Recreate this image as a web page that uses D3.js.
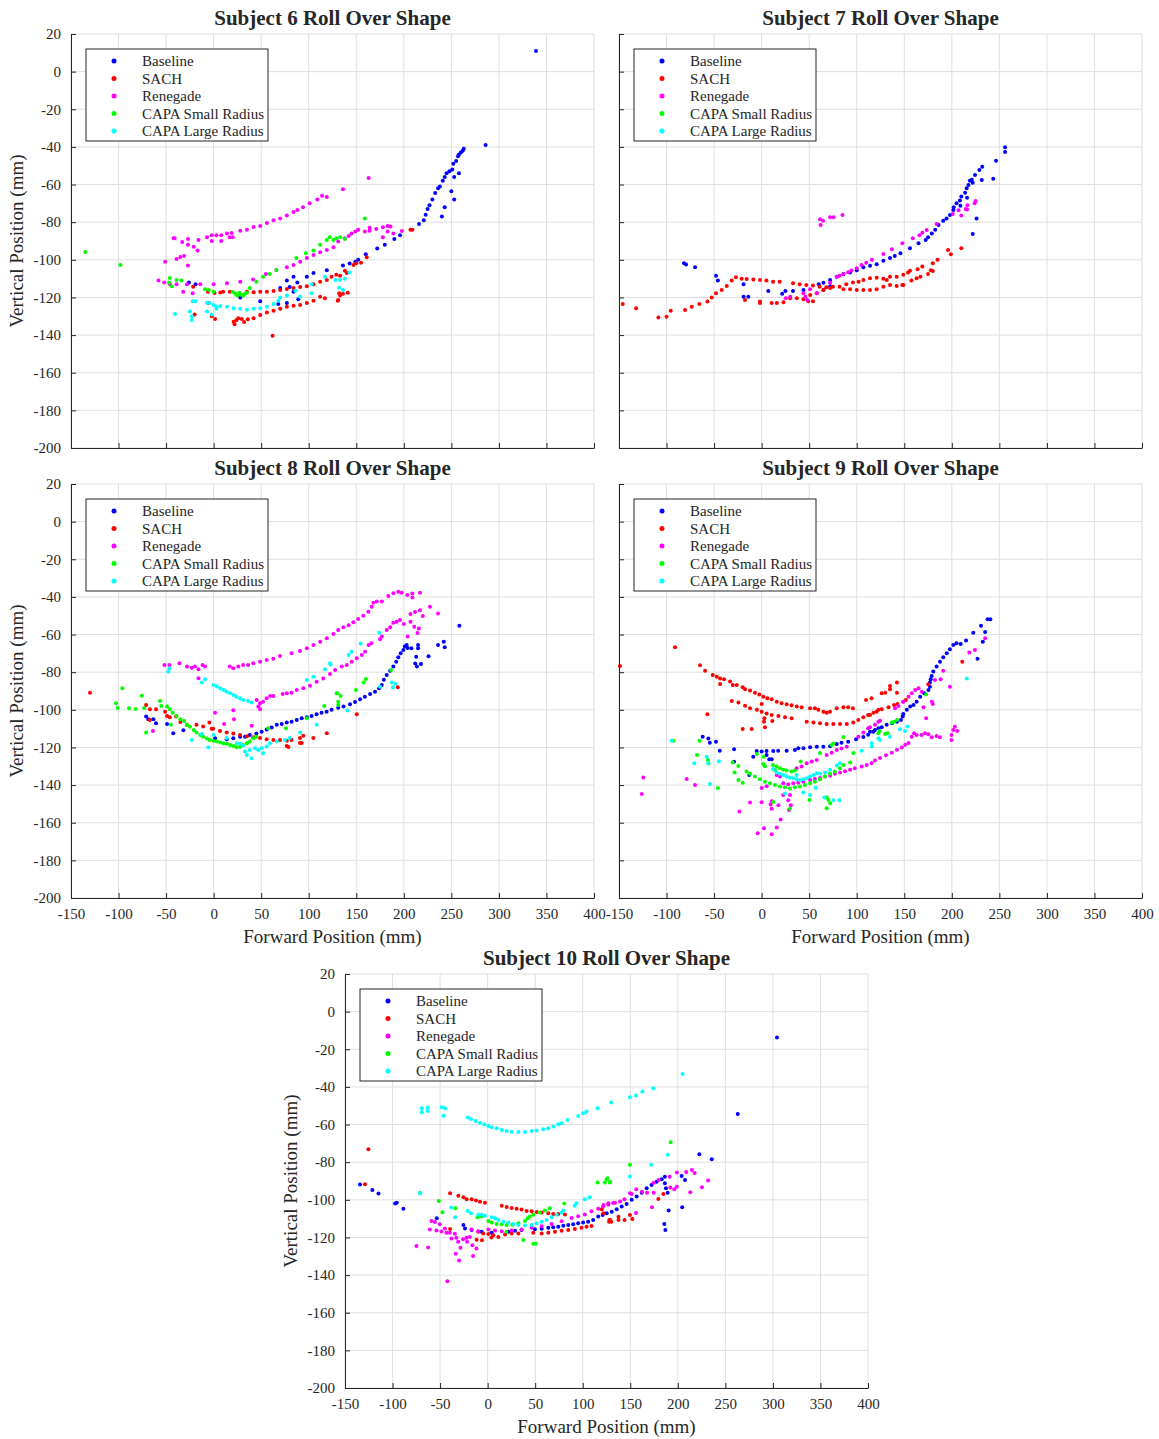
<!DOCTYPE html>
<html>
<head>
<meta charset="utf-8">
<script src="https://cdn.jsdelivr.net/npm/d3@7"></script>
<style>
  body { margin: 0; background: #fff; }
  svg { display: block; }
  text { font-family: "Liberation Serif", "Times New Roman", serif; fill: #262626; }
</style>
</head>
<body>
<svg id="fig" width="1159" height="1439"></svg>
<script>
const seriesNames  = ["Baseline", "SACH", "Renegade", "CAPA Small Radius", "CAPA Large Radius"];
const seriesColors = ["#0000ff", "#ff0000", "#ff00ff", "#00ff00", "#00ffff"];
const xTicks = [-150, -100, -50, 0, 50, 100, 150, 200, 250, 300, 350, 400];
const yTicks = [-200, -180, -160, -140, -120, -100, -80, -60, -40, -20, 0, 20];

// ---- Subject 6 ----
const s6Baseline = [[-26,-112],[-19,-113],[28,-120],[49,-122],[68,-123.5],[77,-123],[70,-115],[77,-111],[80,-114.5],
  [84,-109],[84,-117],[88,-112],[89,-121],[98,-109],[105,-107],[119,-105.5],[136,-103],[143,-102],[149,-101],[152,-100],
  [160,-97],[172,-94],[180,-92],[190,-89],[196,-87],[216,-81],[221,-79],[223,-76],[225,-73],[227,-71],[230,-68],
  [233,-64.5],[236,-62],[238,-61],[241,-58],[243,-56],[245,-54],[248,-53],[251,-52],[252,-49],[255,-47.5],[257,-45],
  [258,-44],[260,-43],[262,-42],[263,-41],[286,-39],[240,-77],[243,-72],[250,-63.5],[253,-68],[253,-56],[258,-54],[339,11]];
const s6Sach = [[-21.5,-114.3],[-6,-117],[1,-117.6],[7,-117.4],[10,-117],[17,-117],[35,-117],[42,-117.2],[49,-117],
  [56,-117],[63,-116.6],[70,-116],[77,-115.5],[84,-115],[91,-114.4],[98,-114],[105,-113],[112,-111.6],[119,-110.7],
  [124,-109],[129,-108],[133,-108.5],[138,-105.8],[140,-107],[147,-102.7],[150,-101.8],[155,-101.5],[161,-98.6],[207,-84],[209,-84],
  [21,-132.9],[22,-134.3],[29.5,-131.5],[32,-133],[36,-131.6],[42,-131],[49,-129.3],[56,-128],[63,-127],[70,-126],
  [77,-125],[84,-124.4],[91,-124],[98,-123],[105,-121.7],[112,-119.6],[117,-120.4],[131,-121.3],[130.5,-121.7],[132,-117.8],
  [133,-119],[136,-118],[141,-117.5],[62,-140.3],[-5.6,-123],[-2,-130],[1.5,-131.5],[-20,-129],[26,-131],[24,-132]];
const s6Renegade = [[-42,-88.5],[-41,-88.5],[-33,-90.5],[-27,-89],[-27,-92],[-21,-93],[-16,-89.5],[-17,-95],[-7,-88],
  [-2,-87],[-2,-90],[3,-87],[8,-87],[8,-90],[14,-86],[17,-88],[20,-88],[19,-85.7],[28,-84.6],[35,-84],[42,-82.6],
  [49,-82],[56,-80.5],[63,-79],[70,-78],[77,-76.5],[84,-74.6],[88,-73.5],[94,-72],[101,-70],[109,-68],[114,-66],
  [119,-66.6],[136,-62.5],[163,-56.5],
  [-58,-111],[-51,-101],[-52,-112],[-46,-113],[-39,-99.5],[-35,-98.5],[-31,-98],[-27,-103],[-32,-117],[-22,-117.8],
  [-39,-113],[-28,-113],[-14,-113],[0,-113],[14,-112.5],[28,-111.6],[41.5,-110.4],[55,-107.5],[66,-105.4],[77,-104],
  [84,-102.7],[91,-101],[98,-99],[105,-97.5],[112,-96],[119,-94.8],[126,-93.3],[131,-90.3],[138,-88.5],[142,-87.4],
  [145,-86],[149,-85],[152,-84],[159,-85],[164,-83],[164,-84.6],[171,-83.6],[178,-82.7],[183,-82],[186,-82.3],
  [178,-88],[183,-85],[189,-86],[198,-84.7]];
const s6Small = [[-135,-95.8],[-98,-102.7],[-47,-112],[-46,-109.7],[-44,-114],[-39,-110.7],[-34,-111],[-9,-115.6],
  [-5,-116],[0,-117],[20,-117],[23,-118],[25,-119],[27,-117.5],[29,-118.5],[31,-119],[33,-118],[35,-117.5],[38,-115],
  [45,-111.6],[52,-109],[59,-107.5],[66,-105.4],[87,-99],[97,-96.5],[105,-95],[112,-92],[119,-89.5],[122,-88],
  [126,-89.5],[129,-88.5],[133,-88],[138,-89],[159,-78]];
const s6Large = [[-40.6,-128.8],[-25,-127.5],[-23,-130],[-23,-132],[-22,-122],[-19,-122],[-7,-122.8],[-4,-123],[0,-124],
  [7,-124.5],[14,-125],[21,-125.7],[28,-126],[35,-126.5],[42,-126],[49,-125.7],[56,-125],[63,-123.5],[68,-121.7],
  [70,-120],[77,-119],[86,-116.5],[91,-119.6],[103,-117.8],[103,-113],[117,-109],[133,-110.7],[138,-110],[143,-106.8],
  [136,-116],[-7,-127.5],[-2,-129],[3,-126],[3,-124.8],[132,-114.8],[128,-110.7]];

// ---- Subject 7 ----
const s7Baseline = [[-81.6,-101.8],[-79.5,-102.5],[-70,-104],[-48,-108.4],[-46,-111],[-19,-113],[-19,-119.6],[-14,-119.6],
  [7,-116.6],[21.6,-118],[25,-116.6],[33,-116.6],[44,-116],[60,-113],[65,-112.2],[65,-116],[72,-110.7],[72,-114],
  [79,-109],[86,-107.5],[93,-106.8],[100,-105.5],[107,-104],[114,-103.2],[121,-102.4],[128,-100.5],[135,-99],[140,-98],
  [146,-96.5],[156,-93.9],[165,-91.2],[172.5,-89.5],[175,-88],[179,-86],[182.5,-84],[186,-81.5],[191,-79.2],[194.5,-78],
  [198,-76.2],[201.6,-73.5],[202,-72],[205,-70],[208.5,-68.5],[210,-66.4],[214,-64.3],[215.6,-62],[217.5,-60.2],[219,-58],
  [221,-57.5],[224.4,-54.9],[229,-52.3],[232,-50.5],[222,-59],[231.5,-57.6],[243.6,-56.9],[246.5,-47.3],[256,-40.2],
  [256,-42.7],[209,-71.3],[216,-67],[226,-78],[222,-86.3]];
const s7Sach = [[-146,-123.5],[-132,-125.8],[-108.6,-130.7],[-100,-130.2],[-95.6,-127],[-80.5,-126.7],[-73.5,-125],
  [-65.5,-123.5],[-57,-122.2],[-52.5,-120],[-48,-117.8],[-42,-116],[-36.7,-113.9],[-31.5,-111],[-27,-109.3],[-21,-110],
  [-15.7,-110.2],[-8.7,-110.4],[-1.7,-110.7],[5,-111],[12,-111.6],[19,-111.6],[33,-112.5],[40,-113],[47,-113.4],
  [54,-113.6],[61,-114.3],[68,-114.6],[75,-114.3],[82,-114.3],[89,-113],[96,-112],[102,-111.6],[107,-110.7],[114,-109.8],
  [121,-109.5],[128,-110],[135,-109],[142,-109],[149,-108],[154,-106.8],[156,-105.8],[164,-105],[169,-103.6],[178,-105.6],
  [180,-101.8],[185,-100],[196,-94.8],[199,-97],[210,-93.9],
  [-17.5,-121.3],[-1.7,-122.2],[-1.7,-123],[10.6,-123],[16,-123],[23,-122.5],[30,-120.4],[37,-120.4],[44,-121],[49,-122],
  [54,-122],[51,-118.7],[58,-117.8],[65,-116],[72,-115],[86,-115.6],[93,-115.6],[100,-116],[107,-116],[114,-116],
  [121,-115.6],[128,-114.3],[131.5,-110.7],[135,-113.4],[142,-113.9],[148,-113.4],[149,-113.4],[157.5,-111],[163,-109.8],
  [167,-109],[175,-107.6],[180,-106]];
const s7Renegade = [[61.4,-78.5],[62,-81.5],[64.6,-79.2],[72,-77.4],[75.7,-77.4],[85,-76.2],
  [25.4,-120.4],[30,-119.6],[44,-117.8],[46,-119.6],[48,-121.3],[51,-115.6],[58,-117.8],[72,-112.2],[79,-109],[82,-108.5],
  [86,-107.5],[91,-106.6],[94.5,-105.7],[100,-104.5],[105,-102.7],[110,-101.5],[116,-100],[128,-96.9],[137,-94.4],
  [148,-91.2],[159,-88.6],[166,-86.9],[169,-85.6],[173.6,-84.1],[184,-81],[201,-75.6],[207,-73.6],[210,-76.4],
  [214.6,-73],[216,-73.3],[216.5,-71],[224,-70],[225,-68.8]];
const s7Small = [];
const s7Large = [];

// ---- Subject 8 ----
const s8Baseline = [[-71,-103.6],[-68.6,-105],[-63.4,-105],[-60.6,-107.2],[-49,-107.6],[-42.4,-112.5],[-31.8,-110.8],
  [1.5,-115.1],[13.7,-115.7],[20.7,-115.1],[27.8,-114.3],[33,-114.3],[38,-113.4],[45,-112.6],[50.5,-111.7],[55.8,-110.4],
  [61,-109.4],[66.4,-108],[71.6,-107.6],[76.9,-106.8],[82,-106.3],[87.4,-105.4],[92.6,-104.5],[98,-104],[103,-103.3],
  [108.3,-102.4],[113.5,-101.5],[118.8,-101],[124,-100],[131,-98.9],[136.6,-98.3],[143.4,-97],[148.7,-95.8],[154,-94.4],
  [159,-93],[164.5,-91.6],[169.7,-90.4],[174,-88.6],[176.8,-86.8],[179,-84],[182,-81.5],[185.6,-79.2],[189,-77],
  [192,-74.4],[194.2,-72],[196.7,-69.9],[199.5,-68.2],[201,-66.4],[203,-65.5],[204,-67.2],[208,-67.3],[215,-65.5],
  [215,-67.3],[213,-71.8],[212,-75.4],[213.8,-77],[218,-75.6],[226,-71.6],[236,-65.5],[242,-63.8],[243,-66.8],[258.4,-55.3]];
const s8Sach = [[-130,-90.9],[-71,-97.4],[-67,-99.7],[-60.6,-99.7],[-67,-105.4],[-51,-101],[-49,-103.3],[-46,-104],
  [-39.5,-103.6],[-35,-106.5],[-28,-108],[-18,-108],[-11,-108.9],[-4.5,-106.8],[-2,-110],[-0.5,-110],[6.7,-111.2],
  [13.7,-112],[20.7,-112.6],[27.8,-113.4],[35,-114],[41.7,-114.6],[48.8,-115],[55.8,-115.7],[62.8,-116],[69.8,-116],
  [77,-116.5],[82,-116],[76.9,-119.2],[78.6,-119.8],[90.8,-115],[90.8,-117.6],[92.6,-117.6],[94.3,-113.8],[104.8,-115],
  [119,-112.5],[150.5,-102.4],[193.6,-88]];
const s8Renegade = [[-51.8,-76.2],[-46.5,-76.2],[-36,-75.3],[-28,-77],[-23,-77.6],[-19.6,-77],[-16,-78.5],[-11.6,-76.2],
  [-9,-77],[-16,-83.2],[17,-77],[20.7,-77.9],[26,-77],[31,-76.2],[36.3,-76.2],[41.7,-75.3],[48.8,-74.4],[55.8,-73.5],
  [62.8,-72.8],[69.8,-71.4],[82,-70],[90.8,-68.8],[98,-67.3],[105,-65.5],[112,-63.8],[119,-62],[126,-59.7],[131,-57.6],
  [136.6,-56.1],[142,-55],[147,-53.5],[152,-51.7],[157.4,-50],[162.7,-47.9],[166.2,-45.2],[168,-43.1],[171.6,-42.5],
  [177,-42.5],[183.7,-39.5],[189,-38.1],[194.2,-37.2],[197.7,-37.8],[203.6,-39],[209,-38.2],[209,-40.3],[217,-37.8],
  [45.3,-94.8],[48.8,-96.5],[47,-98.3],[48.8,-99.7],[52,-95.7],[55.8,-93.9],[59.5,-92.7],[62.8,-92.7],[72.6,-91.6],
  [77,-91.2],[82,-90.9],[87.4,-89.5],[94.3,-88.6],[101.4,-87.2],[108.3,-85.1],[115.3,-83.4],[122.4,-81],[127.7,-78.9],
  [134.7,-77],[140,-76.2],[145.2,-74.4],[150.5,-72.6],[155.8,-70.9],[159.3,-69.2],[163,-65.5],[166,-64.6],[175,-62.5],
  [177,-61.1],[182,-57.6],[185.6,-56.1],[189,-53.7],[192.5,-53.2],[196,-52.3],[200,-54.4],[204,-61.1],[207,-49.1],
  [207,-53.2],[211,-55.9],[211.8,-48],[214.4,-59.2],[217,-47.1],[215.8,-56.8],[220,-50.2],[227.5,-45.2],[236,-48.8],
  [1.5,-101.5],[20.7,-100.2],[21.4,-105],[11,-107.5],[40,-108.4],[-63.8,-111.2]];
const s8Small = [[-96,-88.6],[-102.6,-96.5],[-101,-99],[-89,-99.2],[-82,-99.5],[-75.6,-92.5],[-73,-99],[-71,-112.1],
  [-56.4,-95.3],[-55,-98],[-49,-98.3],[-46,-99.7],[-43,-101.5],[-45,-108],[-39,-103.3],[-35,-105],[-31,-106],[-28,-108],
  [-25,-109],[-21,-110.7],[-18,-112],[-14,-113.4],[-11,-114.3],[-7,-115.2],[-4,-116],[0,-116.5],[3.5,-116.9],[7,-117.4],
  [10.4,-117.8],[14,-118],[17.5,-118.7],[21,-119.2],[24,-119.9],[27.8,-119.6],[31,-118.7],[35,-117.8],[38,-116.9],
  [41.7,-115.1],[45,-114.3],[57.5,-109.8],[76,-109.8],[98,-104.5],[116.4,-98],[129.4,-91.2],[131,-95.7],[130,-91.2],
  [133.5,-92.7],[131,-97.4],[149.7,-89.5],[157.7,-85.5],[160,-83.6],[186.5,-78.8]];
const s8Large = [[-46.6,-78],[-47.6,-79.8],[-9,-83.8],[-12.5,-85.5],[0,-86.8],[3.5,-87.6],[7,-88.6],[10.4,-89.5],
  [13.7,-90.4],[17.5,-91.2],[21,-92.1],[24,-93],[27.8,-93.9],[31,-94.8],[36.3,-95.3],[40,-96.1],[-23,-116],[-5.6,-119.9],
  [-12.5,-112.8],[0,-113.4],[13.7,-115],[24.5,-117.8],[28,-118],[31,-119],[33,-122.2],[35,-124],[40,-125.8],[38,-121.3],
  [43.4,-120.4],[47,-121.3],[50.5,-120.4],[52,-123.1],[55.8,-119.5],[59.3,-117.8],[66.4,-116.9],[75,-116],[80,-115],
  [91,-112.1],[108.4,-108],[98,-84.1],[105,-82.4],[117,-78.5],[123,-75.9],[122.4,-75.3],[142,-70.9],[145,-69.2],
  [154.6,-64.7],[174.2,-59],[140.6,-100.4],[175,-87.7],[187.5,-85.5],[191,-86.2],[188.6,-88.1]];

// ---- Subject 9 ----
const s9Baseline = [[-62,-114.3],[-56,-115.2],[-54.5,-117.5],[-48,-117],[-44,-121.8],[-29,-121],[-29,-127.6],[-13,-134.6],
  [-8.8,-124.9],[-5.2,-121.9],[0,-122.2],[5.2,-121.9],[5.2,-124],[8,-126.3],[10.6,-126.3],[12.2,-121.9],[17.4,-121.8],
  [26.3,-121.8],[35,-121.3],[38.6,-120.4],[44,-120.4],[51,-119.9],[58,-119.6],[65,-119.6],[72,-119.3],[79,-118.2],
  [84,-117.5],[91,-117],[99.3,-115.6],[107,-114.5],[112,-113.3],[114,-111.6],[117.5,-111.6],[119.2,-110.7],[122.8,-109.8],
  [126.3,-109.3],[131.5,-108],[137,-107.2],[142.3,-106.3],[146.5,-105.4],[148.3,-103.6],[149,-102.2],[152.7,-100],
  [156.2,-98.3],[159.7,-97.4],[163,-95.7],[166.7,-93],[171,-91.2],[175.4,-89.5],[177,-87.7],[177,-85.5],[177.8,-83.8],
  [178.8,-82],[180.5,-79.7],[184,-77],[187.6,-74.4],[191,-72],[194.7,-69.9],[198,-67.8],[201.6,-65.5],[205,-64.6],
  [209.3,-65],[215,-63.2],[222.6,-59],[227,-72.8],[230.7,-55.3],[235,-58.7],[232.6,-63.8],[237.6,-51.9],[240.5,-51.9]];
const s9Sach = [[-149,-76.7],[-91,-66.8],[-64.8,-76.3],[-59.5,-79.2],[-51.4,-81.5],[-47.2,-82.4],[-43.7,-83.3],
  [-39.5,-83.8],[-43.7,-86.3],[-33.2,-85],[-30.4,-86.8],[-26.2,-86.8],[-19.9,-88],[-17.4,-89.1],[-12.2,-89.8],[-7,-90.9],
  [-2.4,-91.8],[1.8,-93],[6,-93.9],[10.6,-94.4],[15.9,-95.7],[21,-96.5],[26.3,-97.1],[31.5,-97.6],[36.9,-98.3],[42,-98.7],
  [50.9,-99.2],[56,-99.2],[59.6,-100],[65,-101],[68.4,-101.5],[71.9,-101],[79,-99.2],[86,-98.7],[91,-98.7],[96,-99.2],
  [109.8,-94.8],[115.6,-93.9],
  [-31.4,-95.3],[-24.4,-96.1],[-17.4,-97.9],[-12.2,-99.2],[-5,-100],[0,-101],[5.2,-101.9],[10.6,-102.8],[17.6,-103.3],
  [24.6,-104],[31.5,-104.5],[47.4,-106.3],[54.5,-106.8],[61.4,-107.2],[68.4,-107.5],[75.4,-107.5],[82.5,-107.5],
  [89.5,-107.5],[96.4,-106.8],[101.7,-105.4],[107,-104],[112,-102.8],[114,-102.7],[117.5,-101.5],[121,-101],[122.8,-100],
  [126.3,-99.7],[133.4,-98.7],[139.3,-97.4],[142.8,-96.9],[149,-95.7],[151.7,-94.8],[126.3,-91.2],[130,-90.9],
  [135,-89.1],[135,-87.3],[142.3,-85.5],[142.3,-90.9],[175.3,-86.4],[211,-74.4],
  [-57,-102.4],[-19.9,-110.2],[-10.5,-110.2],[2.9,-104.5],[2.5,-106.3],[3.5,-109.3],[0,-96.9],[11.2,-105.9]];
const s9Renegade = [[-124.4,-136],[-126,-144.7],[-78.8,-136.7],[-70,-139.9],[-23.4,-154.1],[-12.2,-149.3],[-4.2,-165.6],
  [0,-141.5],[0,-149.1],[2.5,-162.9],[5.3,-140.6],[9.4,-150.3],[10.6,-148.6],[10.6,-152.6],[15.8,-162.5],[17.6,-150.7],
  [20,-158.3],[22.8,-145.3],[28,-148],[28.8,-153.3],[29.8,-145.3],[30.8,-150.7],[10.6,-166.1],[15.8,-134.6],[19.3,-135.5],
  [22.8,-139],[28,-139.5],[33.3,-139],[38.5,-138.7],[43.8,-138.2],[51,-137.3],[56,-136.7],[61.4,-136.2],[66.6,-135.5],
  [72,-135],[77,-134],[82.4,-133.3],[87.7,-132.6],[93,-131.9],[98,-131],[105.2,-130.1],[110.5,-129.3],[115.7,-128.4],
  [119.2,-126.9],[124.5,-125.6],[130.8,-124.2],[136.8,-122.8],[142.3,-121.2],[147.5,-120],[151,-118.6],[154.5,-117.6],
  [157.8,-114.3],[160.3,-112.5],[163,-113.4],[168.2,-113.4],[171.7,-112.5],[175.3,-113],[178.8,-114.6],[184,-113.9],
  [187.5,-114.6],[199.7,-113.4],[199.7,-116],[201.5,-110.7],[203.2,-109],[205.7,-111.2],
  [36.8,-131],[42,-130.1],[47.4,-128.4],[52.7,-127.5],[58,-126.7],[68.4,-124],[73.7,-122.8],[79,-121.4],[84,-120.5],
  [89.5,-119.6],[101.7,-114.3],[107,-112.1],[112,-109.8],[114,-109.3],[119.2,-107.9],[122.8,-106.3],[124.5,-105.8],
  [140.3,-99.2],[143.9,-98],[149,-95.7],[154.5,-93],[158,-91.2],[161.5,-89.5],[165,-88.6],[168.5,-90.4],[170.2,-98.7],
  [173,-104.5],[179,-95.7],[180,-96.9],[182.3,-84.1],[188.3,-83.8],[191,-79.2],[198,-87.7],[218.4,-69.6],[224.3,-68.2],
  [235,-62]];
const s9Small = [[-92.8,-116.4],[-65.5,-116.4],[-68,-124],[-56.5,-126.7],[-55.8,-128.5],[-46,-141.6],[-30.5,-128],
  [-28.5,-133.3],[-24.4,-137.3],[-19.9,-138.7],[-24.5,-129.8],[-15.8,-132.8],[-12.3,-134],[-7,-135.5],[-1.7,-136.9],
  [3.5,-138.2],[8.8,-139],[14,-140],[19.3,-140.8],[24.5,-141.2],[29.8,-141.8],[35,-141.2],[40.3,-140.8],[45.5,-140],
  [51,-139],[56,-138.2],[61.4,-136.9],[66.6,-135.5],[71.9,-134],[77,-132.8],[82.4,-131],[86,-129.3],[93,-128],[96.4,-123],
  [-5,-123.5],[2,-125],[1.8,-128.8],[3.5,-130],[12,-129.3],[14,-132],[15.8,-130.1],[19.3,-131],[22.8,-131.8],[26.3,-132.2],
  [31.5,-132.8],[35,-132.2],[41,-127.4],[61.4,-123],[73.7,-118.7],[75.4,-117.9],[86,-114.5],[50.2,-147.9],[68.4,-146.5],
  [70.2,-147.9],[72,-149.6],[68.4,-152.3],[12.2,-149],[29.8,-152.6],[172.9,-91.8],[136.8,-106.8],[139.3,-106.3],
  [142.3,-105.4],[122.8,-112.5],[124,-111.3],[129.8,-112.9],[132.3,-112.5]];
const s9Large = [[-94.5,-116.4],[-70.8,-128.4],[-57.8,-124.9],[-56,-128.4],[-54.3,-139.4],[-44.9,-127.3],[12,-131.5],
  [15.8,-133.3],[19.3,-134],[22.8,-134.6],[26.3,-135.5],[29.8,-135.9],[33.3,-136.4],[36.8,-136.9],[36.8,-134.6],
  [40.3,-137.3],[43.8,-136.9],[47.4,-136.4],[51,-135.5],[54.5,-134.6],[58,-133.7],[61.4,-134],[66.6,-133.3],[71.9,-131.9],
  [79,-129.6],[82.4,-128.4],[24.5,-144.5],[43.8,-143.9],[51,-145.3],[56.9,-141.4],[66,-146.6],[75.4,-148],[81.7,-148],
  [105.2,-121.7],[115.7,-117.8],[115.8,-119.5],[122.8,-115.2],[124.5,-116],[135,-114.3],[145.5,-110.3],[150.8,-111.2],
  [153.3,-108.8],[215.7,-83.3]];

// ---- Subject 10 ----
const s10Baseline = [[-134.2,-91.8],[-121.2,-94.8],[-114.8,-96.6],[-97.3,-101.9],[-95.6,-101.5],[-88.6,-104.8],
  [-53.5,-109.8],[-25.5,-113.4],[-23.8,-115.2],[-16.8,-116],[-6.3,-117],[4.3,-117.5],[21.8,-117],[28.8,-116.5],
  [35.7,-116],[49.7,-115.7],[56.8,-115.4],[63.8,-114.8],[69,-114.6],[74.3,-114.3],[79.6,-113.8],[84.8,-113.4],[90,-113],
  [95.2,-112.5],[100.4,-112],[105.7,-111.6],[111,-110.7],[116.3,-108.9],[121,-108.1],[125.2,-107.2],[130.5,-106.3],
  [135.7,-105],[141,-103.6],[146.2,-102.2],[151.5,-100],[156.7,-98.3],[162,-96.2],[167.2,-93.9],[172.4,-92.1],
  [177.7,-90.4],[183,-89.1],[186.4,-87.7],[186.4,-91.2],[187.5,-93.9],[189.3,-96.2],[190.4,-105.7],[185.8,-112.8],
  [186.9,-116],[204,-87.3],[207.6,-89.5],[204.6,-103.9],[222.6,-75.8],[235.7,-78.4],[263,-54.4],[304.3,-13.8]];
const s10Sach = [[-125.4,-73.1],[-129,-91.7],[-39.5,-96.5],[-30.8,-97.9],[-25.5,-98.6],[-22,-99.7],[-16.8,-99.7],
  [-12.3,-100.4],[-8,-101],[-2.8,-101.5],[14.8,-103.2],[20,-103.8],[25.3,-104.3],[30.5,-104.7],[35.7,-105.2],[41,-105.9],
  [46.3,-106.1],[51.5,-106.5],[56.8,-106.7],[63.8,-107.1],[69,-107.5],[74.3,-107.5],[81.3,-107.8],
  [-39.5,-115.5],[-9.8,-117],[-4.6,-117.9],[0.8,-118.2],[6,-118.8],[11.3,-119.7],[-11.6,-121.2],[-6,-121.5],[4,-120],
  [18.3,-118.4],[25.3,-117.9],[32.3,-117.9],[48,-117.5],[56.8,-117.9],[63.8,-117.5],[70.8,-117],[77.8,-116.5],
  [84.8,-116],[91.7,-115.5],[98.7,-114.8],[104,-114.3],[109.2,-113.9],[128,-110.7],[130,-111.6],[120,-105],
  [121.7,-107.2],[128.8,-110.7],[127.7,-111.6],[137.6,-109],[137.6,-110.7],[144,-110.7],[149.7,-108.1],[152.2,-110.2],
  [179.5,-99.5],[184.8,-96.9]];
const s10Renegade = [[-74.8,-124.5],[-62.6,-125.4],[-59,-111.3],[-55.5,-111.8],[-60.8,-115.8],[-53.8,-116.3],[-50.3,-113],
  [-48.5,-116.9],[-45,-115.2],[-43.3,-117.5],[-39.8,-117.5],[-38,-120.5],[-34.5,-118],[-32.8,-120.2],[-31,-122.3],
  [-33.5,-128.7],[-30,-132.2],[-28.6,-125.5],[-25.8,-121],[-22.3,-120.2],[-21.6,-122.3],[-18.8,-119.8],[-16,-124.1],
  [-15.3,-129.9],[-11.8,-125.9],[-17,-115.8],[-10,-116.7],[-42.3,-143.3],[0.8,-115.8],[7.8,-116.3],[14.8,-116.7],
  [25.3,-116.3],[35.7,-115.8],[46.3,-114.9],[56.8,-114],[67.3,-112.8],[77.8,-111.4],[88.3,-109.6],[95.2,-108.7],
  [102.2,-107.8],[109.2,-106.1],[116.3,-104.7],[121.5,-103.4],[126.8,-102.6],[132,-101.7],[121.7,-102.7],[127,-101.8],
  [134,-101.5],[139.3,-100.9],[143.9,-99.7],[149.7,-96.5],[151.5,-96.9],[156.3,-94.4],[162.3,-95.7],[167.6,-96.2],
  [174.6,-96.2],[174.6,-90.9],[179.9,-89.5],[191.4,-87.7],[192.1,-93.4],[196.3,-94.4],[199,-93],[199,-85.5],[208.8,-85.2],
  [214.8,-84.1],[217.6,-85.8],[213.1,-96],[225.4,-93.3],[231.8,-89.8],[172.8,-103.9],[156,-107]];
const s10Small = [[-71,-96.2],[-51.4,-100.6],[-47.5,-106.6],[-33.9,-104.5],[-10.5,-109.3],[-6.3,-108.9],[0.8,-111.2],
  [4.3,-112.1],[9.5,-112.8],[14.8,-113],[20,-113.4],[26,-113.2],[32.3,-112.5],[39.3,-111.2],[42,-109.8],[44.5,-108.9],
  [48,-108],[55,-106.8],[60.3,-105.7],[65.5,-104.5],[37.5,-121.3],[48,-123.4],[50.5,-123.4],[19.7,-117],[80.6,-101.9],
  [125.2,-89.1],[128.8,-90.4],[149.7,-81.4],[192.5,-69.4],[115.6,-90.8],[123.3,-90.8],[126,-88.6],[128.5,-90.8]];
const s10Large = [[-69.3,-51.4],[-69.3,-53.5],[-63,-50.9],[-63,-52.8],[-48.3,-50.8],[-44.8,-51.4],[-46.5,-55.3],
  [-21,-56.3],[-17.5,-57],[-12.6,-58.1],[-8,-59],[-3.5,-59.9],[0.8,-60.8],[4.3,-61.5],[9.5,-62],[14.8,-62.9],[20,-63.4],
  [25.3,-63.8],[32.3,-64],[39.3,-64],[46.3,-63.4],[51.5,-63.2],[58.5,-62.5],[63.8,-62],[69,-61.1],[74.3,-59.9],
  [77.8,-59.3],[84,-57.6],[95.2,-55.5],[100.4,-54],[104,-53.1],[115.6,-51.4],[129.8,-48.3],[149.7,-45.5],[156,-44.6],
  [162.7,-42.4],[174.2,-40.7],[205,-33.1],[189.4,-76],[171.9,-81.3],[149.7,-87.6],
  [-71,-96.5],[-38.4,-104.1],[-34.2,-109.3],[-21,-105.9],[-17.5,-107.1],[-9.8,-108],[-6.3,-108],[-2.8,-108.5],[4.3,-109.3],
  [7.8,-109.8],[11.3,-110.7],[16.5,-111.6],[21.8,-112.1],[27,-112.8],[32.3,-113.4],[39.3,-113.7],[46.3,-113.4],
  [51.5,-112.5],[56.8,-111.6],[62,-110.7],[67.3,-109.3],[72.6,-108],[77.8,-106.8],[79.6,-105.7],[91.7,-103.2],
  [93.4,-101.8],[102.2,-99.7],[107.4,-98.6]];

const panels = [
  { title: "Subject 6 Roll Over Shape",  left: 71,  top: 34,  yLab: true,  xLab: false, series: [s6Baseline, s6Sach, s6Renegade, s6Small, s6Large] },
  { title: "Subject 7 Roll Over Shape",  left: 619, top: 34,  yLab: false, xLab: false, series: [s7Baseline, s7Sach, s7Renegade, s7Small, s7Large] },
  { title: "Subject 8 Roll Over Shape",  left: 71,  top: 484, yLab: true,  xLab: true,  series: [s8Baseline, s8Sach, s8Renegade, s8Small, s8Large] },
  { title: "Subject 9 Roll Over Shape",  left: 619, top: 484, yLab: false, xLab: true,  series: [s9Baseline, s9Sach, s9Renegade, s9Small, s9Large] },
  { title: "Subject 10 Roll Over Shape", left: 345, top: 974, yLab: true,  xLab: true,  series: [s10Baseline, s10Sach, s10Renegade, s10Small, s10Large] }
];

const W = 523, H = 414;
const svg = d3.select("#fig");
const plain = d => String(d);   // MATLAB-style hyphen minus

panels.forEach(drawPanel);

function drawPanel(p) {
  const g = svg.append("g").attr("transform", `translate(${p.left},${p.top})`);
  const x = d3.scaleLinear().domain([-150, 400]).range([0, W]);
  const y = d3.scaleLinear().domain([-200, 20]).range([H, 0]);

  // grid
  g.append("g").selectAll("line").data(xTicks).join("line")
    .attr("x1", d => x(d)).attr("x2", d => x(d)).attr("y1", 0).attr("y2", H)
    .attr("stroke", "#dfdfdf").attr("stroke-width", 1);
  g.append("g").selectAll("line").data(yTicks).join("line")
    .attr("x1", 0).attr("x2", W).attr("y1", d => y(d)).attr("y2", d => y(d))
    .attr("stroke", "#dfdfdf").attr("stroke-width", 1);

  // points
  p.series.forEach((pts, i) => {
    g.append("g").selectAll("circle").data(pts).join("circle")
      .attr("cx", d => x(d[0])).attr("cy", d => y(d[1]))
      .attr("r", 2).attr("fill", seriesColors[i]);
  });

  // axes
  const xAxis = d3.axisBottom(x).tickValues(xTicks).tickSizeInner(-5).tickSizeOuter(0).tickPadding(10)
    .tickFormat(p.xLab ? plain : "");
  const yAxis = d3.axisLeft(y).tickValues(yTicks).tickSizeInner(-5).tickSizeOuter(0).tickPadding(10)
    .tickFormat(p.yLab ? plain : "");
  const gx = g.append("g").attr("transform", `translate(0,${H})`).call(xAxis);
  const gy = g.append("g").call(yAxis);
  [gx, gy].forEach(a => {
    a.select(".domain").attr("stroke", "#262626");
    a.selectAll(".tick line").attr("stroke", "#262626");
    a.selectAll(".tick text").attr("font-family", "Liberation Serif").attr("font-size", 15).attr("fill", "#262626");
  });
  gx.selectAll(".tick text").attr("dy", "0.71em");

  // title
  g.append("text").attr("x", W / 2).attr("y", -9).attr("text-anchor", "middle")
    .attr("font-size", 21).attr("font-weight", "bold").attr("fill", "#000").text(p.title);

  if (p.yLab) {
    g.append("text").attr("transform", `translate(-48,${H / 2}) rotate(-90)`)
      .attr("text-anchor", "middle").attr("font-size", 19).text("Vertical Position (mm)");
  }
  if (p.xLab) {
    g.append("text").attr("x", W / 2).attr("y", H + 45).attr("text-anchor", "middle")
      .attr("font-size", 19).text("Forward Position (mm)");
  }

  // legend
  const lg = g.append("g").attr("transform", "translate(15,15)");
  lg.append("rect").attr("width", 182).attr("height", 92)
    .attr("fill", "#fff").attr("stroke", "#262626").attr("stroke-width", 1);
  seriesNames.forEach((name, i) => {
    const row = lg.append("g").attr("transform", `translate(0,${12 + i * 17.5})`);
    row.append("circle").attr("cx", 28).attr("cy", 0).attr("r", 2.5).attr("fill", seriesColors[i]);
    row.append("text").attr("x", 56).attr("y", 0).attr("dy", "0.35em").attr("font-size", 15).text(name);
  });
}
</script>
</body>
</html>
